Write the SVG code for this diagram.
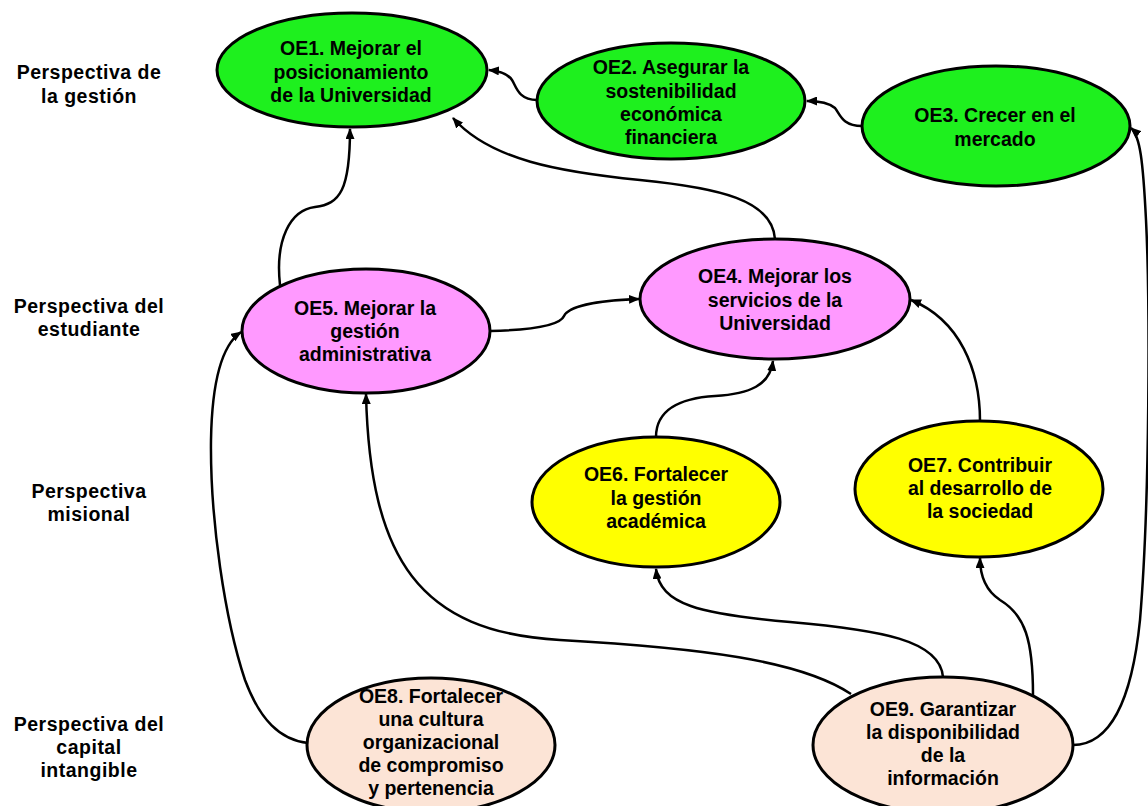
<svg xmlns="http://www.w3.org/2000/svg" width="1148" height="806" viewBox="0 0 1148 806">
<defs>
<marker id="arr" markerUnits="userSpaceOnUse" markerWidth="11" markerHeight="9" refX="10" refY="4.5" orient="auto">
<path d="M0,0 L11,4.5 L0,9 z" fill="#000"/>
</marker>
<style>
.n{stroke:#000;stroke-width:3}
.g{fill:#1ef01e}.p{fill:#ff99ff}.y{fill:#ffff00}.c{fill:#fce4d6}
.t{font-family:"Liberation Sans",Arial,sans-serif;font-weight:bold;font-size:19.5px;text-anchor:middle;fill:#000}
.l{font-family:"Liberation Sans",Arial,sans-serif;font-weight:bold;font-size:19.5px;letter-spacing:0.5px;text-anchor:middle;fill:#000}
.e{fill:none;stroke:#000;stroke-width:2.5;marker-end:url(#arr)}
</style>
</defs>
<rect width="1148" height="806" fill="#fff"/>
<g id="labels">
<text class="l" x="89" y="79">Perspectiva de</text>
<text class="l" x="89" y="103">la gestión</text>
<text class="l" x="89" y="313">Perspectiva del</text>
<text class="l" x="89" y="336">estudiante</text>
<text class="l" x="89" y="498">Perspectiva</text>
<text class="l" x="89" y="521">misional</text>
<text class="l" x="89" y="731">Perspectiva del</text>
<text class="l" x="89" y="754">capital</text>
<text class="l" x="89" y="777">intangible</text>
</g>
<g id="connectors">
<path class="e" d="M537,100 C518,100 516,86 512,80 C508,74 500,71 489,70"/>
<path class="e" d="M862,126 C842,126 840,114 835,108 C828,102 818,101 807,101"/>
<path class="e" d="M775,239 C772,200 720,188 640,180 C560,172 490,160 453,118"/>
<path class="e" d="M280,285 C275,240 290,210 315,207 C340,204 350,190 350,129"/>
<path class="e" d="M490,331 C530,330 560,326 564,316 C570,304 610,300 639,299"/>
<path class="e" d="M656,437 C656,410 680,398 715,396 C750,394 770,385 773,361"/>
<path class="e" d="M980,421 C980,370 960,320 911,300"/>
<path class="e" d="M851,694 C800,660 700,648 560,640 C420,632 370,560 366,394"/>
<path class="e" d="M943,677 C940,640 880,630 790,622 C700,614 660,605 656,569"/>
<path class="e" d="M1033,695 C1033,640 1025,615 1000,600 C985,590 980,575 980,558"/>
<path class="e" d="M1073,745 C1110,745 1132,700 1140,620 C1150,500 1150,300 1146,220 C1143,160 1140,136 1131,128"/>
<path class="e" d="M308,743 C280,740 260,720 245,680 C225,620 210,520 211,440 C212,380 222,345 241,332"/>
</g>
<g id="OE1">
<ellipse class="n g" cx="352" cy="70" rx="135" ry="57"/>
<text class="t" x="351" y="55">OE1. Mejorar el</text>
<text class="t" x="351" y="79">posicionamiento</text>
<text class="t" x="351" y="102">de la Universidad</text>
</g>
<g id="OE2">
<ellipse class="n g" cx="671" cy="101" rx="134" ry="58"/>
<text class="t" x="671" y="74">OE2. Asegurar la</text>
<text class="t" x="671" y="98">sostenibilidad</text>
<text class="t" x="671" y="121">económica</text>
<text class="t" x="671" y="144">financiera</text>
</g>
<g id="OE3">
<ellipse class="n g" cx="996" cy="126" rx="134" ry="60"/>
<text class="t" x="995" y="122">OE3. Crecer en el</text>
<text class="t" x="995" y="146">mercado</text>
</g>
<g id="OE4">
<ellipse class="n p" cx="775" cy="299" rx="135" ry="60"/>
<text class="t" x="775" y="283">OE4. Mejorar los</text>
<text class="t" x="775" y="307">servicios de la</text>
<text class="t" x="775" y="330">Universidad</text>
</g>
<g id="OE5">
<ellipse class="n p" cx="366" cy="331" rx="124" ry="62"/>
<text class="t" x="365" y="315">OE5. Mejorar la</text>
<text class="t" x="365" y="338">gestión</text>
<text class="t" x="365" y="361">administrativa</text>
</g>
<g id="OE6">
<ellipse class="n y" cx="656" cy="502" rx="124" ry="65"/>
<text class="t" x="656" y="481">OE6. Fortalecer</text>
<text class="t" x="656" y="505">la gestión</text>
<text class="t" x="656" y="528">académica</text>
</g>
<g id="OE7">
<ellipse class="n y" cx="979" cy="489" rx="124" ry="68"/>
<text class="t" x="980" y="472">OE7. Contribuir</text>
<text class="t" x="980" y="495">al desarrollo de</text>
<text class="t" x="980" y="518">la sociedad</text>
</g>
<g id="OE8">
<ellipse class="n c" cx="431" cy="745" rx="124" ry="67"/>
<text class="t" x="431" y="703">OE8. Fortalecer</text>
<text class="t" x="431" y="726">una cultura</text>
<text class="t" x="431" y="749">organizacional</text>
<text class="t" x="431" y="772">de compromiso</text>
<text class="t" x="431" y="795">y pertenencia</text>
</g>
<g id="OE9">
<ellipse class="n c" cx="943" cy="745" rx="130" ry="68"/>
<text class="t" x="943" y="716">OE9. Garantizar</text>
<text class="t" x="943" y="739">la disponibilidad</text>
<text class="t" x="943" y="762">de la</text>
<text class="t" x="943" y="785">información</text>
</g>
</svg>
